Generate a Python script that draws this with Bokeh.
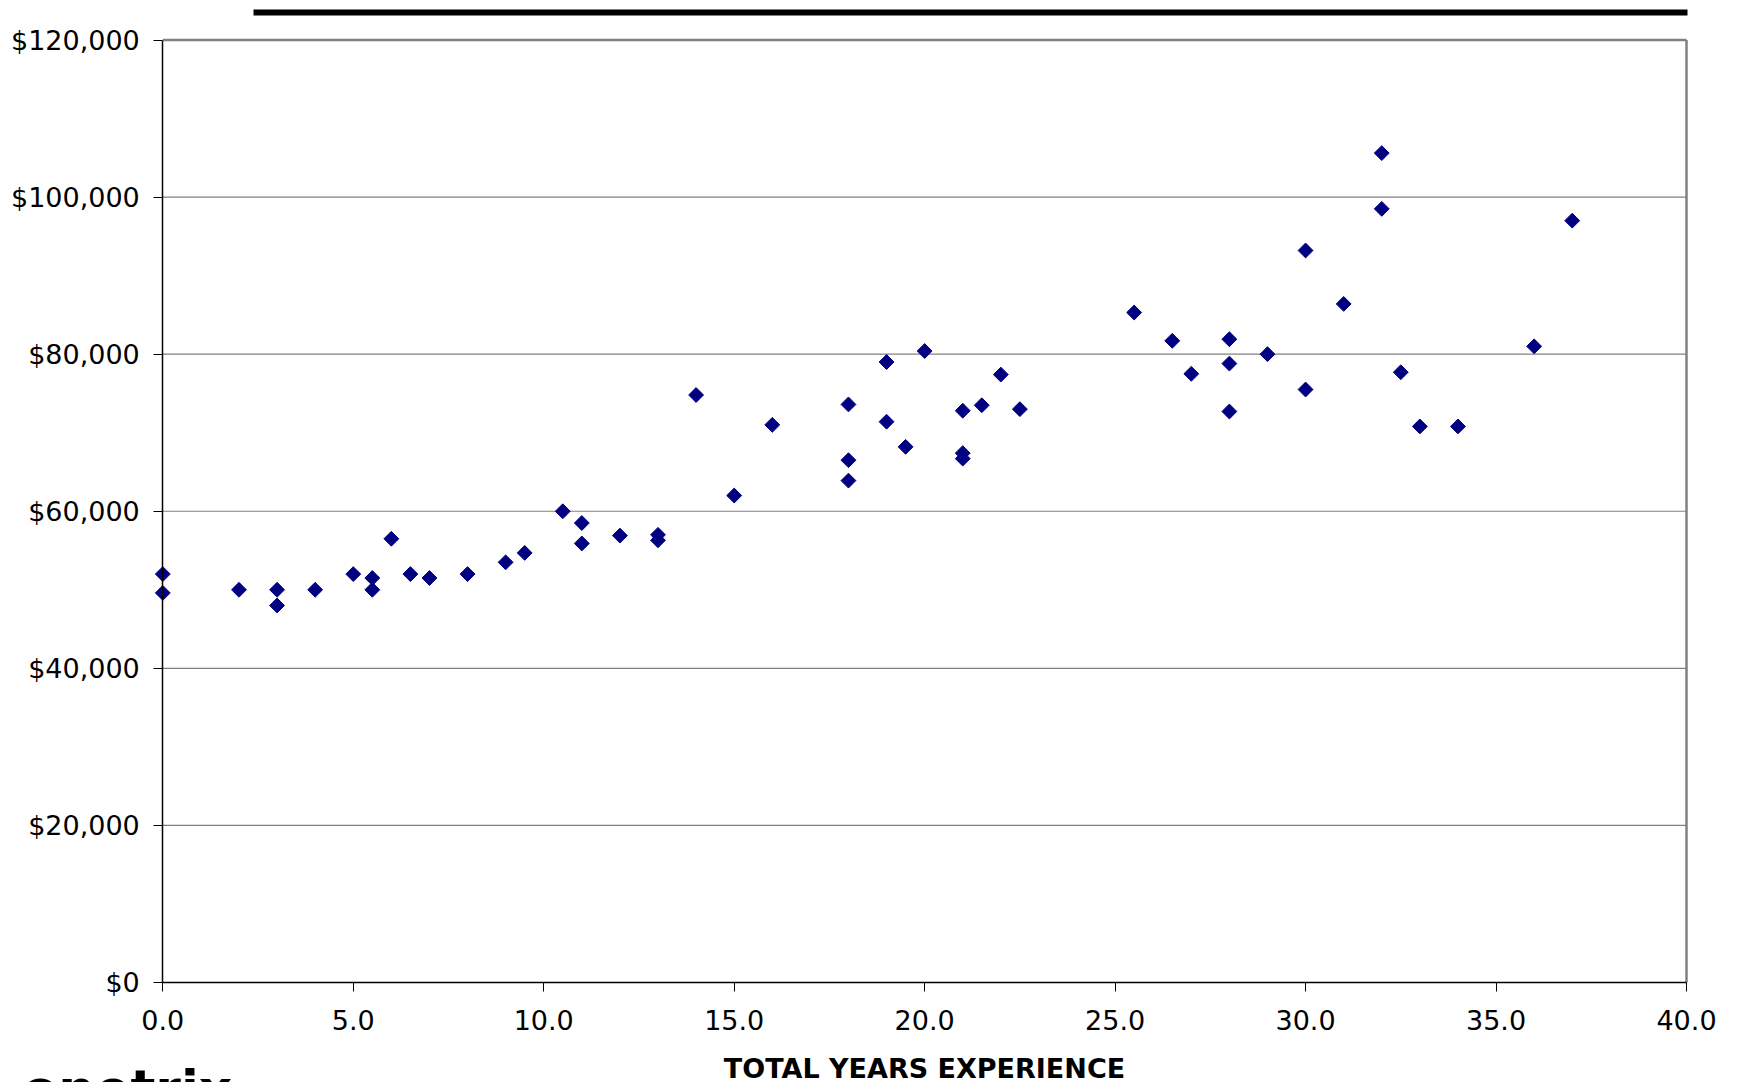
from bokeh.plotting import figure
from bokeh.models import (Range1d, FixedTicker, NumeralTickFormatter, Label, BoxAnnotation)
from bokeh.embed import file_html
from bokeh.resources import INLINE
import numpy as np

# ---- data ----
years = [0, 0, 2, 3, 3, 4, 5, 5.5, 5.5, 6, 6.5, 7, 8, 9, 9.5, 10.5, 11, 11, 12, 13, 13,
         14, 15, 16, 18, 18, 18, 19, 19, 19.5, 20, 21, 21, 21, 21.5, 22, 22.5,
         25.5, 26.5, 27, 28, 28, 28, 29, 30, 30, 31, 32, 32, 32.5, 33, 34, 36, 37]
salary = [52000, 49600, 50000, 50000, 48000, 50000, 52000, 51500, 50000, 56500, 52000,
          51500, 52000, 53500, 54700, 60000, 58500, 55900, 56900, 57000, 56300,
          74800, 62000, 71000, 73600, 66500, 63900, 79000, 71400, 68200, 80400,
          72800, 67400, 66700, 73500, 77400, 73000,
          85300, 81700, 77500, 81900, 78800, 72700, 80000, 93200, 75500, 86400,
          105600, 98500, 77700, 70800, 70800, 81000, 97000]
x_ticks = [0, 5, 10, 15, 20, 25, 30, 35, 40]
y_ticks = [0, 20000, 40000, 60000, 80000, 100000, 120000]
x_title = "TOTAL YEARS EXPERIENCE"
logo_text = "onetrix"

FONT = "DejaVu Sans"
W, H = 1739, 1082

# layout: plot area in canvas pixels
PX_L, PX_R = 162.3, 1686.0     # x = 0 .. 40
PX_T, PX_B = 39.5, 982.0       # y = 120000 .. 0
XMIN, XMAX, YMIN, YMAX = 0, 40, 0, 120000
xpp = (XMAX - XMIN) / (PX_R - PX_L)
ypp = (YMAX - YMIN) / (PX_B - PX_T)

def dx(px):
    return XMIN + (px - PX_L) * xpp

def dy(py):
    return YMIN + (PX_B - py) * ypp

p = figure(width=W, height=H, output_backend="svg", toolbar_location=None,
           x_range=Range1d(dx(0), dx(W)), y_range=Range1d(dy(H), dy(0)),
           min_border=0, min_border_left=0, min_border_right=0,
           min_border_top=0, min_border_bottom=0)
p.background_fill_color = "white"
p.border_fill_color = "white"
p.outline_line_color = None
p.xgrid.visible = False
p.ygrid.visible = False

# horizontal grid lines inside the plot area only
grid_y = y_ticks[1:-1]
p.segment(x0=[XMIN] * len(grid_y), x1=[XMAX] * len(grid_y), y0=grid_y, y1=grid_y,
          line_color="#808080", line_width=1.2)

# plot-area border (top and right, grey)
p.segment(x0=[XMIN, XMAX], y0=[YMAX, YMIN], x1=[XMAX, XMAX], y1=[YMAX, YMAX],
          line_color="#808080", line_width=2.5)

# axes sit at data 0 inside the (full-canvas) frame
p.xaxis.fixed_location = 0
p.yaxis.fixed_location = 0
p.xaxis.bounds = (XMIN, XMAX)
p.yaxis.bounds = (YMIN, YMAX)
p.xaxis.ticker = FixedTicker(ticks=x_ticks)
p.yaxis.ticker = FixedTicker(ticks=y_ticks)
p.xaxis.formatter = NumeralTickFormatter(format="0.0")
p.yaxis.formatter = NumeralTickFormatter(format="$0,0")
for ax in (p.xaxis, p.yaxis):
    ax.axis_line_color = "black"
    ax.axis_line_width = 1.5
    ax.major_tick_line_color = "black"
    ax.major_tick_line_width = 1
    ax.major_tick_out = 9
    ax.major_tick_in = 0
    ax.minor_tick_line_color = None
    ax.major_label_text_font = FONT
    ax.major_label_text_font_size = "27px"
    ax.major_label_text_color = "black"
p.yaxis.major_label_standoff = 14
p.xaxis.major_label_standoff = 18

p.xaxis.axis_label = x_title
p.xaxis.axis_label_text_font = FONT
p.xaxis.axis_label_text_font_style = "bold"
p.xaxis.axis_label_text_font_size = "27px"
p.xaxis.axis_label_text_color = "black"
p.xaxis.axis_label_standoff = 20

# points
p.scatter(years, salary, marker="square", angle=np.pi / 4, size=10.5,
          fill_color="#000080", line_color="#000080")

# decorative top bar
p.add_layout(BoxAnnotation(left=dx(253), right=dx(1687), top=dy(9), bottom=dy(15),
                           fill_color="black", fill_alpha=1, line_color=None))

# logo text cut off at the bottom edge
p.add_layout(Label(x=dx(22), y=dy(1058), text=logo_text,
                   text_font=FONT, text_font_style="bold", text_font_size="52px",
                   text_color="black", text_baseline="top"))

open("out.html", "w").write(file_html(p, INLINE))
